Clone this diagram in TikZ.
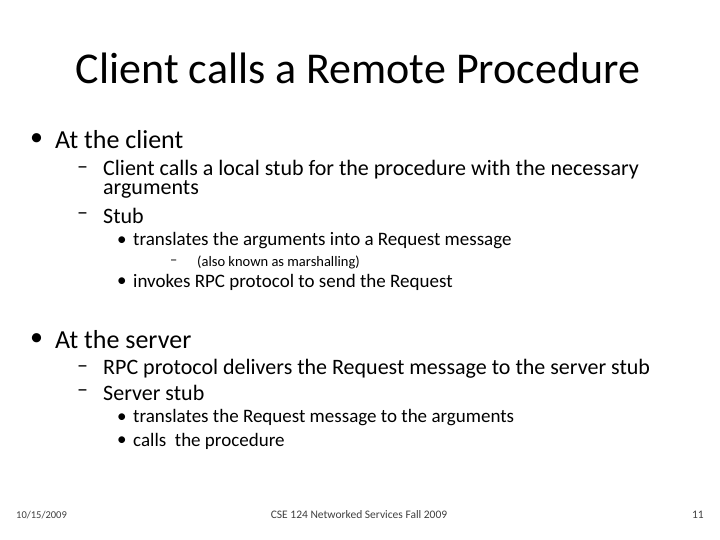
\documentclass[tikz,border=0pt]{standalone}
\usepackage{fontspec}
\setmainfont{Carlito}
\newcommand{\dsh}{\raisebox{-0.22em}{\textendash}}
\begin{document}
\begin{tikzpicture}[x=1pt,y=-1pt,
  txt/.style={anchor=west,inner sep=0pt,text=black},
  l1/.style={txt,font=\fontsize{26}{29}\selectfont},
  l2/.style={txt,font=\fontsize{22}{22}\selectfont},
  l3/.style={txt,font=\fontsize{19}{20}\selectfont},
  l4/.style={txt,font=\fontsize{14.5}{16}\selectfont},
  foot/.style={inner sep=0pt,text=black!75,font=\fontsize{11.5}{13}\selectfont}]
\useasboundingbox[fill=white] (0,0) rectangle (720,540);
\node[inner sep=0pt,font=\fontsize{44}{48}\selectfont] (title) at (358,68) {Client calls a Remote Procedure};
\node[l1] (b1) at (30,140) {•};
\node[l1] (t1) at (55,140) {At the client};
\node[l2] (d1) at (77,170) {\dsh};
\node[l2] (t11) at (103,170) {Client calls a local stub for the procedure with the necessary};
\node[l2] (t11b) at (103,189) {arguments};
\node[l2] (d2) at (77,216) {\dsh};
\node[l2] (t12) at (103,216) {Stub};
\node[l3] (b121) at (117,241) {•};
\node[l3] (t121) at (133,241) {translates the arguments into a Request message};
\node[l4] (d1211) at (170,262) {\dsh};
\node[l4] (t1211) at (197,262) {(also known as marshalling)};
\node[l3] (b122) at (117,282) {•};
\node[l3] (t122) at (133,282) {invokes RPC protocol to send the Request};
\node[l1] (b2) at (30,340) {•};
\node[l1] (t2) at (55,340) {At the server};
\node[l2] (d3) at (77,369) {\dsh};
\node[l2] (t21) at (103,369) {RPC protocol delivers the Request message to the server stub};
\node[l2] (d4) at (77,393) {\dsh};
\node[l2] (t22) at (103,393) {Server stub};
\node[l3] (b221) at (117,418) {•};
\node[l3] (t221) at (133,418) {translates the Request message to the arguments};
\node[l3] (b222) at (117,441) {•};
\node[l3] (t222) at (133,441) {calls \ the procedure};
\node[foot,anchor=west,font=\fontsize{10.5}{12}\selectfont] (date) at (16,515) {10/15/2009};
\node[foot] (course) at (359,515) {CSE 124 Networked Services Fall 2009};
\node[foot,anchor=east] (page) at (704,515) {11};
\end{tikzpicture}
\end{document}
